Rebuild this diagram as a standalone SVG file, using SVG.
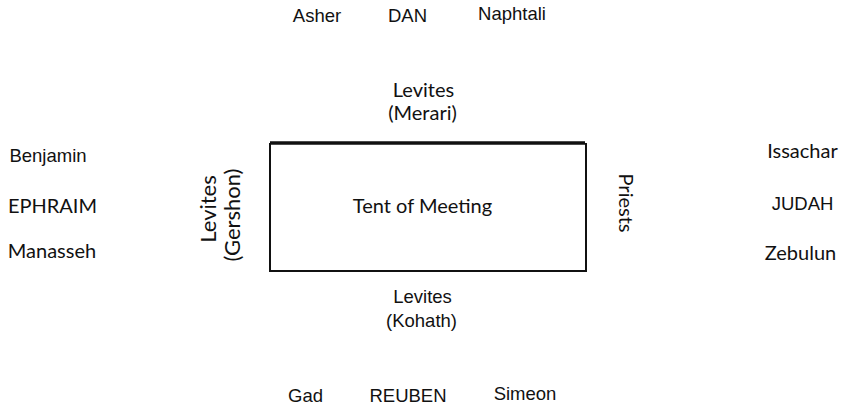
<svg xmlns="http://www.w3.org/2000/svg" width="843" height="407" viewBox="0 0 843 407">
<style>
.a{font-family:"Liberation Sans",Arial,sans-serif;font-size:18.5px;fill:#111;text-anchor:middle}
.h{font-family:Lato,"Open Sans",sans-serif;font-size:20px;fill:#111;text-anchor:middle}
.big{font-size:22px}
.edge{stroke:#111;stroke-width:2;fill:none}
</style>
<rect width="843" height="407" fill="#fff"/>
<g id="connectors">
<line class="edge" x1="270" y1="143" x2="585" y2="143" style="stroke-width:3.5"/>
<line class="edge" x1="270" y1="143" x2="270" y2="271"/>
<line class="edge" x1="586" y1="143" x2="586" y2="271"/>
<line class="edge" x1="269" y1="271" x2="587" y2="271"/>
</g>
<g id="tent"><text class="h" x="422.5" y="213">Tent of Meeting</text></g>
<g id="north">
<text class="a" x="317" y="22">Asher</text>
<text class="a" x="407.5" y="22">DAN</text>
<text class="a" x="512" y="20">Naphtali</text>
</g>
<g id="merari"><text class="h" x="423.5" y="97">Levites</text><text class="h" x="422.5" y="120">(Merari)</text></g>
<g id="kohath"><text class="a" x="422.5" y="303">Levites</text><text class="a" x="421.5" y="327">(Kohath)</text></g>
<g id="south">
<text class="a" x="305.5" y="402">Gad</text>
<text class="a" x="408" y="402">REUBEN</text>
<text class="a" x="525" y="400">Simeon</text>
</g>
<g id="west">
<text class="a" x="48" y="162">Benjamin</text>
<text class="h" x="52.5" y="213">EPHRAIM</text>
<text class="h" x="52" y="258">Manasseh</text>
</g>
<g id="east">
<text class="h" x="802.5" y="158">Issachar</text>
<text class="a" x="802.5" y="210">JUDAH</text>
<text class="h" x="800.5" y="260">Zebulun</text>
</g>
<g id="gershon">
<text class="h big" transform="translate(216,209) rotate(-90)" x="0" y="0">Levites</text>
<text class="h big" transform="translate(240,215) rotate(-90)" x="0" y="0">(Gershon)</text>
</g>
<g id="priests"><text class="h" transform="translate(619,203) rotate(90)" x="0" y="0">Priests</text></g>
</svg>
